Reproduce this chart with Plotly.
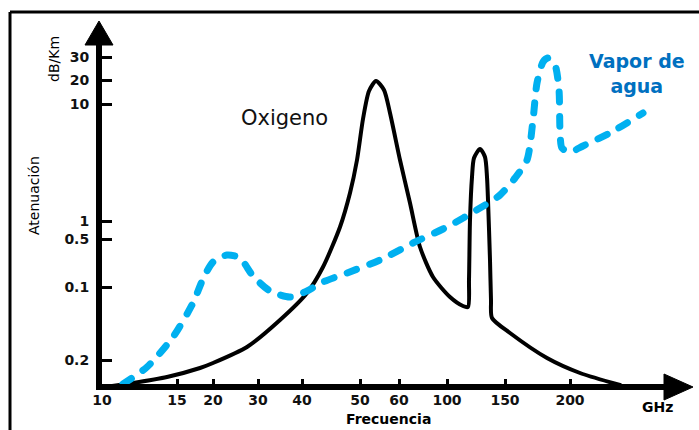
import plotly.graph_objects as go

# ---------------- data (schematic axis units) ----------------
oxygen_x = [13, 34, 68, 101, 114, 148, 181, 208, 224, 241, 251, 258, 264, 270, 277,
            285, 291, 301, 311, 321, 334, 351, 364, 369, 370, 371, 373, 375, 381,
            386, 388, 389, 391, 392, 393, 411, 448, 481, 521]
oxygen_y = [1, 4, 10, 19, 24, 40, 67, 94, 120, 160, 194, 227, 268, 296, 306,
            297, 274, 227, 184, 140, 110, 90, 81, 80, 107, 167, 210, 229, 238,
            230, 210, 187, 127, 87, 69, 54, 29, 14, 2]

vapor_x = [24, 48, 74, 94, 104, 114, 128, 141, 154, 171, 191, 208, 224, 248, 281,
           314, 348, 381, 401, 416, 428, 434, 438, 444, 449, 456, 460, 461, 463,
           471, 484, 511, 544]
vapor_y = [3, 20, 50, 84, 108, 125, 132, 129, 111, 96, 90, 96, 105, 114, 127,
           144, 160, 179, 192, 209, 227, 267, 304, 325, 329, 322, 297, 257, 239,
           235, 241, 254, 274]

x_tick_labels = ["10", "15", "20", "30", "40", "50", "60", "100", "150", "200"]
y_tick_labels = ["30", "20", "10", "1", "0.5", "0.1", "0.2"]

# ---------------- layout positions ----------------
x_tick_pos = [3, 78, 114, 159, 203, 261, 300, 348, 406, 471]
y_tick_pos = [330, 307, 283, 166, 148, 100, 27]

FW, FH = 699, 430
L, R, T, B = 102, 19, 30, 46
PW, PH = FW - L - R, FH - T - B


def px(x):
    return (x - L) / PW


def py(y):
    return 1 - (y - T) / PH


BLACK = "#000000"
BLUE_LINE = "#00B0F0"
BLUE_TEXT = "#0070C0"
FONT = "DejaVu Sans"

fig = go.Figure()
fig.add_trace(go.Scatter(
    x=oxygen_x, y=oxygen_y, mode="lines", hoverinfo="skip",
    line=dict(color=BLACK, width=4, shape="spline", smoothing=0.7),
))
fig.add_trace(go.Scatter(
    x=vapor_x, y=vapor_y, mode="lines", hoverinfo="skip",
    line=dict(color=BLUE_LINE, width=7, dash="10px,14px", shape="spline", smoothing=0.7),
))

tickfont = dict(family=FONT, size=14, color="#111111", weight="bold")
fig.update_xaxes(
    range=[3, 3 + PW], showgrid=False, zeroline=False, showline=True,
    linecolor=BLACK, linewidth=6, ticks="inside", ticklen=5, tickwidth=3,
    tickcolor=BLACK, tickvals=x_tick_pos, ticktext=x_tick_labels,
    tickfont=tickfont, fixedrange=True, ticklabelstandoff=-2,
)
fig.update_yaxes(
    range=[3, 3 + PH], showgrid=False, zeroline=False, showline=True,
    linecolor=BLACK, linewidth=6, ticks="inside", ticklen=10, tickwidth=3,
    tickcolor=BLACK, tickvals=y_tick_pos, ticktext=y_tick_labels,
    tickfont=tickfont, fixedrange=True, ticklabelstandoff=4,
)

shapes = [
    # frame (left and top edges)
    dict(type="line", xref="paper", yref="paper", x0=px(10), x1=px(10), y0=py(12), y1=py(440),
         line=dict(color=BLACK, width=3)),
    dict(type="line", xref="paper", yref="paper", x0=px(10), x1=px(710), y0=py(12), y1=py(12),
         line=dict(color=BLACK, width=3)),
    # arrowheads
    dict(type="path", xref="paper", yref="paper",
         path=f"M {px(85)} {py(45)} L {px(99)} {py(21)} L {px(113)} {py(45)} Z",
         fillcolor=BLACK, line=dict(color=BLACK, width=1)),
    dict(type="path", xref="paper", yref="paper",
         path=f"M {px(664)} {py(374)} L {px(693)} {py(387)} L {px(664)} {py(400)} Z",
         fillcolor=BLACK, line=dict(color=BLACK, width=1)),
]

annotations = [
    dict(text="Oxigeno", x=px(284), y=py(118), font=dict(family=FONT, size=21, color="#111111")),
    dict(text="Vapor de<br>agua", x=px(637), y=py(73),
         font=dict(family=FONT, size=19, color=BLUE_TEXT, weight="bold")),
    dict(text="Frecuencia", x=px(388), y=py(419),
         font=dict(family=FONT, size=14, color=BLACK, weight="bold")),
    dict(text="GHz", x=px(657), y=py(407),
         font=dict(family=FONT, size=14, color=BLACK, weight="bold")),
    dict(text="dB/Km", x=px(54), y=py(59), textangle=-90,
         font=dict(family=FONT, size=14, color=BLACK)),
    dict(text="Atenuación", x=px(34), y=py(196), textangle=-90,
         font=dict(family=FONT, size=14, color=BLACK)),
]
for a in annotations:
    a.update(xref="paper", yref="paper", showarrow=False, xanchor="center", yanchor="middle")

fig.update_layout(
    width=FW, height=FH, margin=dict(l=L, r=R, t=T, b=B),
    paper_bgcolor="white", plot_bgcolor="white", showlegend=False,
    shapes=shapes, annotations=annotations,
)

post = """
var st = document.createElement('style');
st.textContent = 'html,body{margin:0 !important;padding:0 !important;overflow:hidden;}' +
  '.scatterlayer .js-line{stroke-linecap:round !important;stroke-linejoin:round !important;}';
document.head.appendChild(st);
"""
fig.write_html("out.html", post_script=post, config={"displayModeBar": False})
